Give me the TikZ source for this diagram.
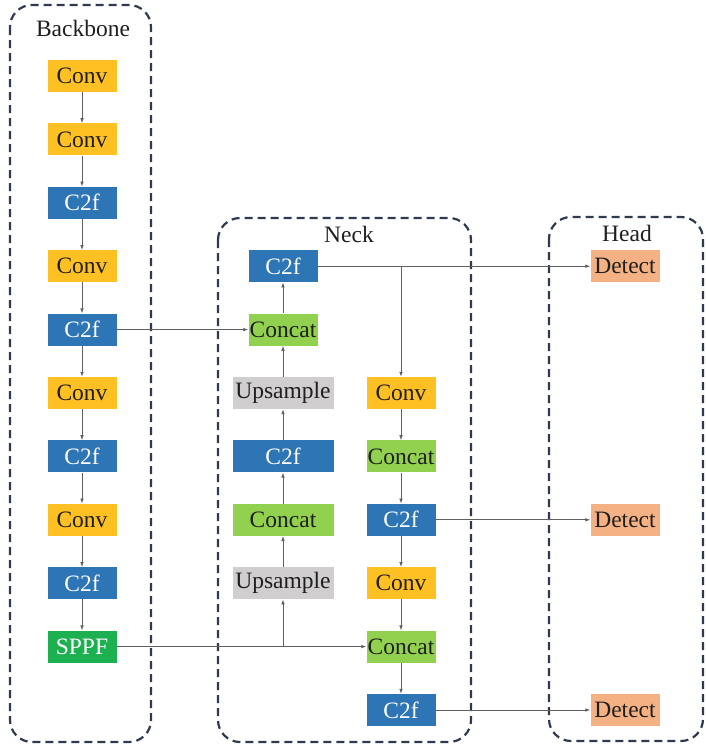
\documentclass[tikz,border=0pt]{standalone}
\usepackage{fontspec}
\setmainfont{Liberation Serif}
\usetikzlibrary{positioning,arrows.meta}
\definecolor{convc}{HTML}{FFC024}
\definecolor{c2fc}{HTML}{2E75B6}
\definecolor{catc}{HTML}{92D050}
\definecolor{upc}{HTML}{D0CECE}
\definecolor{sppfc}{HTML}{1DB050}
\definecolor{detc}{HTML}{F4B183}
\definecolor{framec}{HTML}{2F3A4F}
\definecolor{linec}{HTML}{606060}
\def\myvdist{63.4pt}
\tikzset{
>={Latex[length=5pt,width=3.6pt]}, % small arrow tips
my node/.style={minimum height=32pt,minimum width=69pt,inner sep=0pt,
  font=\fontsize{23.5}{26}\selectfont,text=black!88},
my wide/.style={minimum width=101pt},
conv/.style={my node,fill=convc},
c2f/.style={my node,fill=c2fc,text=white},
cat/.style={my node,fill=catc},
upsmp/.style={my node,my wide,fill=upc},
sppf/.style={my node,fill=sppfc,text=white},
det/.style={my node,fill=detc},
flow/.style={draw=linec,line width=0.75pt,->},
group/.style={draw=framec,line width=2.2pt,dash pattern=on 8pt off 5pt,rounded corners=22pt},
title/.style={font=\fontsize{23.5}{26}\selectfont,anchor=base,text=black!88},
net/.style={x=1pt,y=1pt,node distance=\myvdist,on grid}
}
\begin{document}
\begin{tikzpicture}[net]
\useasboundingbox (0,0) rectangle (705,-750);

% frames
\draw[group] (10,-5) rectangle (151,-742);
\draw[group] (218,-218) rectangle (471,-742);
\draw[group] (549,-217) rectangle (703,-741);
\node[title] (tb) at (83,-36) {Backbone};
\node[title] (tn) at (349,-242) {Neck};
\node[title] (th) at (627,-241) {Head};

% backbone
\node[conv] (b1) at (82,-76) {Conv};
\node[conv,below=of b1] (b2) {Conv};
\node[c2f,below=of b2] (b3) {C2f};
\node[conv,below=of b3] (b4) {Conv};
\node[c2f,below=of b4] (b5) {C2f};
\node[conv,below=of b5] (b6) {Conv};
\node[c2f,below=of b6] (b7) {C2f};
\node[conv,below=of b7] (b8) {Conv};
\node[c2f,below=of b8] (b9) {C2f};
\node[sppf,below=of b9] (b10) {SPPF};

% neck, up path
\node[c2f,right=201pt of b4] (n1) {C2f};
\node[cat,below=of n1] (n2) {Concat};
\node[upsmp,below=of n2] (n3) {Upsample};
\node[c2f,my wide,below=of n3] (n4) {C2f};
\node[cat,my wide,below=of n4] (n5) {Concat};
\node[upsmp,below=of n5] (n6) {Upsample};

% neck, down path
\node[conv,right=118pt of n3] (m1) {Conv};
\node[cat,below=of m1] (m2) {Concat};
\node[c2f,below=of m2] (m3) {C2f};
\node[conv,below=of m3] (m4) {Conv};
\node[cat,below=of m4] (m5) {Concat};
\node[c2f,below=of m5] (m6) {C2f};

% head
\node[det,right=342pt of n1] (h1) {Detect};
\node[det,right=224pt of m3] (h2) {Detect};
\node[det,right=224pt of m6] (h3) {Detect};

\foreach \a/\b in {b1/b2,b2/b3,b3/b4,b4/b5,b5/b6,b6/b7,b7/b8,b8/b9,b9/b10,
  n6/n5,n5/n4,n4/n3,n3/n2,n2/n1,m1/m2,m2/m3,m3/m4,m4/m5,m5/m6}
  \draw[flow] (\a) -- (\b);
\draw[flow] (b5) -- (n2);
\draw[flow] (b10) -- (m5);
\draw[flow] (b10 -| n6) -- (n6);
\draw[flow] (n1) -- (h1);
\draw[flow] (n1 -| m1) -- (m1);
\draw[flow] (m3) -- (h2);
\draw[flow] (m6) -- (h3);
\end{tikzpicture}
\end{document}
